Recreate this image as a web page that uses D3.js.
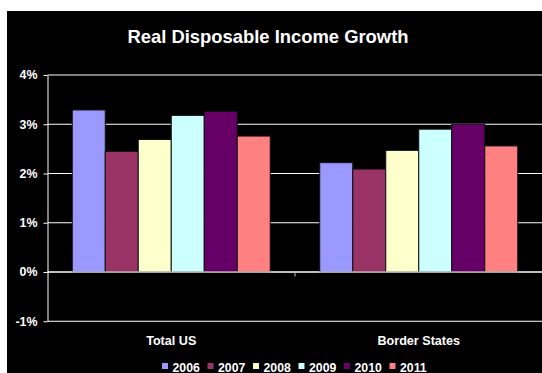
<!DOCTYPE html>
<html>
<head>
<meta charset="utf-8">
<script src="https://cdn.jsdelivr.net/npm/d3@7/dist/d3.min.js"></script>
<style>
  html, body { margin: 0; padding: 0; background: #fff; }
  svg { display: block; }
  text { font-family: Arial, "Liberation Sans", sans-serif; font-weight: bold; fill: #fff; }
</style>
</head>
<body>
<svg id="chart" width="542" height="373"></svg>
<script>
// Real disposable income growth, % per year
const categories = ["Total US", "Border States"];
const years = ["2006", "2007", "2008", "2009", "2010", "2011"];
const totalUS = [3.29, 2.45, 2.69, 3.18, 3.26, 2.76];
const borderStates = [2.22, 2.09, 2.47, 2.90, 3.00, 2.56];
const yTicks = [-1, 0, 1, 2, 3, 4];
const colors = ["#9999FF", "#993366", "#FFFFCC", "#CCFFFF", "#660066", "#FF8080"];

const seriesByCategory = [totalUS, borderStates];

const svg = d3.select("#chart");

// black chart background
svg.append("rect")
  .attr("x", 7).attr("y", 11)
  .attr("width", 535).attr("height", 362)
  .attr("fill", "#000");

svg.append("text")
  .attr("x", 268).attr("y", 43)
  .attr("text-anchor", "middle")
  .style("font-size", "18.4px")
  .text("Real Disposable Income Growth");

const plotLeft = 47.5, plotRight = 542.5;

const y = d3.scaleLinear().domain([-1, 4]).range([321.25, 75]);
const x0 = d3.scaleBand().domain(categories).range([plotLeft, plotRight]).padding(0);
const x1 = d3.scaleBand().domain(years).range([0, x0.bandwidth()])
  .paddingInner(0).paddingOuter(0.75);

// horizontal gridlines
svg.append("g")
  .selectAll("line")
  .data(yTicks)
  .join("line")
  .attr("x1", plotLeft).attr("x2", plotRight)
  .attr("y1", d => y(d)).attr("y2", d => y(d))
  .attr("stroke", "#fff").attr("stroke-width", 1);

// left value axis
const yAxis = svg.append("g")
  .attr("transform", `translate(${plotLeft},0)`)
  .call(d3.axisLeft(y).tickValues(yTicks).tickSize(4).tickSizeOuter(0).tickPadding(6)
    .tickFormat(d => d + "%"));
yAxis.select(".domain").attr("stroke", "#fff");
yAxis.selectAll(".tick line").attr("stroke", "#fff");
yAxis.selectAll(".tick text")
  .attr("fill", "#fff")
  .style("font-size", "12.4px")
  .style("font-family", "Arial, 'Liberation Sans', sans-serif")
  .style("font-weight", "bold");

// bars
const groups = svg.append("g")
  .selectAll("g")
  .data(categories)
  .join("g")
  .attr("transform", d => `translate(${x0(d)},0)`);

groups.selectAll("rect")
  .data((c, i) => seriesByCategory[i].map((v, j) => ({ year: years[j], value: v, color: colors[j] })))
  .join("rect")
  .attr("x", d => x1(d.year))
  .attr("width", x1.bandwidth())
  .attr("y", d => y(Math.max(0, d.value)))
  .attr("height", d => Math.abs(y(d.value) - y(0)))
  .attr("fill", d => d.color)
  .attr("stroke", "#111")
  .attr("stroke-width", 1);

// category axis on the zero line
const zeroY = y(0);
svg.append("line")
  .attr("x1", plotLeft).attr("x2", plotRight)
  .attr("y1", zeroY).attr("y2", zeroY)
  .attr("stroke", "#fff");
svg.append("g")
  .selectAll("line")
  .data(categories.slice(1))
  .join("line")
  .attr("x1", d => x0(d)).attr("x2", d => x0(d))
  .attr("y1", zeroY).attr("y2", zeroY + 4.5)
  .attr("stroke", "#bbb");

svg.append("g")
  .selectAll("text")
  .data(categories)
  .join("text")
  .attr("x", d => x0(d) + x0.bandwidth() / 2)
  .attr("y", 345)
  .attr("text-anchor", "middle")
  .style("font-size", "12.6px")
  .text(d => d);

// legend
const legendX = d3.scaleBand().domain(years).range([162, 435]);
const legend = svg.append("g")
  .selectAll("g")
  .data(years)
  .join("g")
  .attr("transform", d => `translate(${legendX(d)},0)`);
legend.append("rect")
  .attr("x", 0).attr("y", 363)
  .attr("width", 6).attr("height", 6)
  .attr("fill", (d, i) => colors[i]);
legend.append("text")
  .attr("x", 10.5).attr("y", 371.5)
  .style("font-size", "12.3px")
  .text(d => d);
</script>
</body>
</html>
